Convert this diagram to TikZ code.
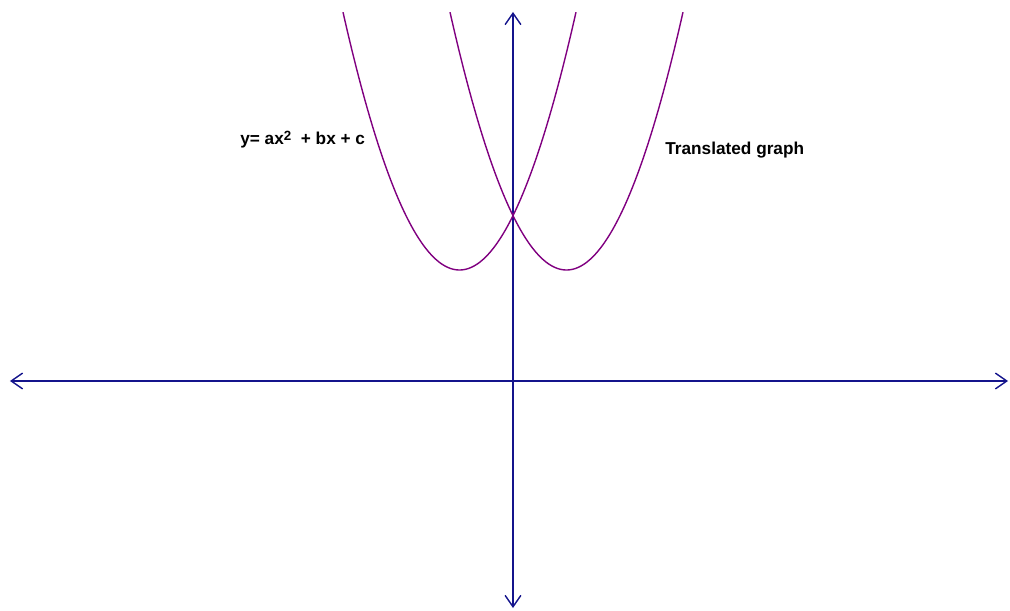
\documentclass[tikz,border=0pt]{standalone}
\usepackage{fontspec}
\setmainfont{Liberation Sans}
\usetikzlibrary{arrows.meta}
\definecolor{axisblue}{RGB}{20,20,140}
\definecolor{curvepurple}{RGB}{128,0,128}
\newcommand{\sqsup}{\raisebox{0.5ex}{\fontsize{7.6}{9}\selectfont 2}}

\begin{document}
\begin{tikzpicture}[x=0.02cm, y=0.02cm,
    axis/.style={{Straight Barb[length=6.5pt,width=9pt]}-{Straight Barb[length=6.5pt,width=9pt]}, line width=0.8pt, axisblue},
    curve/.style={line width=0.8pt, curvepurple, samples=120},
    lbl/.style={font=\bfseries\fontsize{9.8}{12}\selectfont, anchor=base west, inner sep=0pt}]
    \useasboundingbox (-513,-230) rectangle (497,381);
    % axes
    \coordinate (xl) at (-503,0);
    \coordinate (xr) at (495,0);
    \coordinate (yt) at (0,369);
    \coordinate (yb) at (0,-227);
    \draw[axis] (xl) -- (xr);
    \draw[axis] (yb) -- (yt);
    % original and translated parabola
    \draw[curve] plot[domain=-170:63] (\x, {111 + 0.019*(\x+53.5)^2});
    \draw[curve] plot[domain=-63:170] (\x, {111 + 0.019*(\x-53.5)^2});
    \node[lbl] (orig) at (-273,236) {y= ax\sqsup\ \ + bx + c};
    \node[lbl] (trans) at (152,226) {Translated graph};
\end{tikzpicture}
\end{document}
